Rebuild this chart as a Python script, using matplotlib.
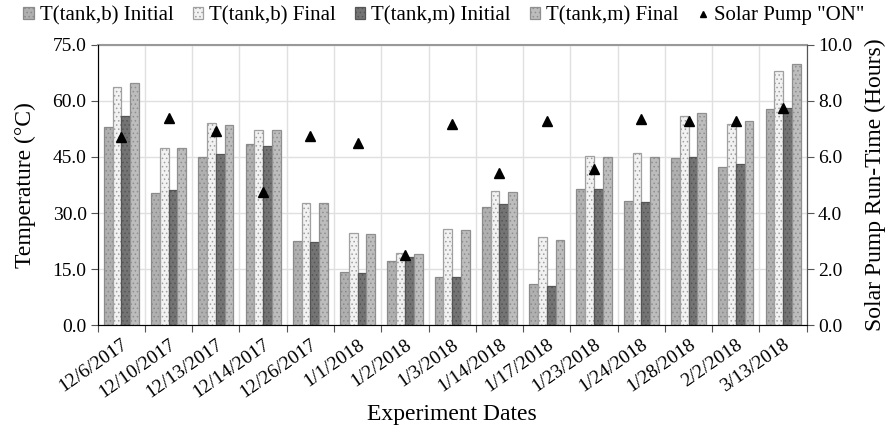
import matplotlib
matplotlib.use("Agg")
import matplotlib.pyplot as plt
import numpy as np
from matplotlib.ticker import FormatStrFormatter, FixedLocator

plt.rcParams['font.family'] = ['Liberation Serif', 'DejaVu Serif']
plt.rcParams['hatch.linewidth'] = 0.6

dates = ["12/6/2017", "12/10/2017", "12/13/2017", "12/14/2017", "12/26/2017",
         "1/1/2018", "1/2/2018", "1/3/2018", "1/14/2018", "1/17/2018",
         "1/23/2018", "1/24/2018", "1/28/2018", "2/2/2018", "3/13/2018"]
tb_initial = [53.0, 35.4, 45.1, 48.5, 22.5, 14.1, 17.1, 12.8, 31.7, 11.1, 36.3, 33.3, 44.6, 42.3, 57.8]
tb_final   = [63.8, 47.5, 54.0, 52.2, 32.7, 24.6, 19.3, 25.6, 36.0, 23.7, 45.3, 46.0, 56.0, 53.8, 68.0]
tm_initial = [56.1, 36.2, 45.7, 47.9, 22.3, 14.0, 18.3, 12.8, 32.4, 10.5, 36.3, 33.0, 44.9, 43.2, 58.0]
tm_final   = [64.7, 47.3, 53.7, 52.2, 32.7, 24.3, 18.9, 25.4, 35.5, 22.8, 45.1, 45.1, 56.9, 54.6, 69.9]
pump_hours = [6.70, 7.40, 6.93, 4.76, 6.76, 6.49, 2.50, 7.17, 5.42, 7.29, 5.57, 7.35, 7.30, 7.30, 7.74]

series = [
    ("T(tank,b) Initial", tb_initial, "#b0b0b0", "#8a8a8a"),
    ("T(tank,b) Final",   tb_final,   "#f2f2f2", "#a0a0a0"),
    ("T(tank,m) Initial", tm_initial, "#747474", "#555555"),
    ("T(tank,m) Final",   tm_final,   "#bdbdbd", "#8f8f8f"),
]

fig = plt.figure(figsize=(8.88, 4.33), dpi=100)
ax = fig.add_axes([0.110, 0.2494, 0.7985, 0.6467])
ax2 = ax.twinx()

x = np.arange(len(dates))
w = 0.186
handles = []
for i, (name, vals, fc, ec) in enumerate(series):
    b = ax.bar(x + (i - 1.5) * w, vals, width=w, color=fc, edgecolor=ec,
               linewidth=0.9, hatch='....', label=name, zorder=3)
    handles.append(b)

ax.set_xlim(-0.5, len(dates) - 0.5)
ax.set_ylim(0, 75)
ax.set_yticks(np.arange(0, 75.1, 15))
ax.yaxis.set_major_formatter(FormatStrFormatter('%.1f'))
ax.grid(axis='y', color='#e0e0e0', linewidth=1.0, zorder=0)
ax.xaxis.set_major_locator(FixedLocator(np.arange(-0.5, len(dates), 1.0)))
ax.xaxis.set_minor_locator(FixedLocator(x))
ax.grid(axis='x', which='major', color='#e0e0e0', linewidth=1.0, zorder=0)
ax.set_xticklabels([])
ax.set_xticklabels(dates, minor=True, rotation=35, ha='right', rotation_mode='anchor', fontsize=14)
ax.tick_params(axis='x', which='minor', length=0, pad=8)
ax.tick_params(axis='x', which='major', length=5, direction='out', color='#555555')
ax.set_axisbelow(True)

ax.spines['top'].set_color('#999999')
ax.spines['top'].set_linewidth(1.5)
for sp in ['left', 'bottom', 'right']:
    ax.spines[sp].set_color('#555555')
ax2.spines['top'].set_visible(False)
ax2.spines['right'].set_color('#555555')

ax.tick_params(axis='y', labelsize=14, length=5, color='#555555', pad=3)
ax.set_ylabel("Temperature (°C)", fontsize=17, labelpad=12)
ax.set_xlabel("Experiment Dates", fontsize=17, labelpad=2)

ln, = ax2.plot(x, pump_hours, linestyle='none', marker='^', color='black',
               markersize=7.5, label='Solar Pump "ON"', zorder=5)
ax2.set_ylim(0, 10)
ax2.set_yticks(np.arange(0, 10.1, 2))
ax2.yaxis.set_major_formatter(FormatStrFormatter('%.1f'))
ax2.tick_params(axis='y', labelsize=14, length=5, color='#555555', pad=3)
ax2.set_ylabel("Solar Pump Run-Time (Hours)", fontsize=17, labelpad=9)

leg = fig.legend(handles + [ln], [h.get_label() for h in handles] + ['Solar Pump "ON"'],
                 loc='upper center', bbox_to_anchor=(0.5, 1.015), ncol=5, frameon=False,
                 fontsize=15, handlelength=0.5, handleheight=0.5, handletextpad=0.3,
                 columnspacing=0.9, markerscale=0.6, borderaxespad=0.2)

fig.savefig("out.png", dpi=100)
